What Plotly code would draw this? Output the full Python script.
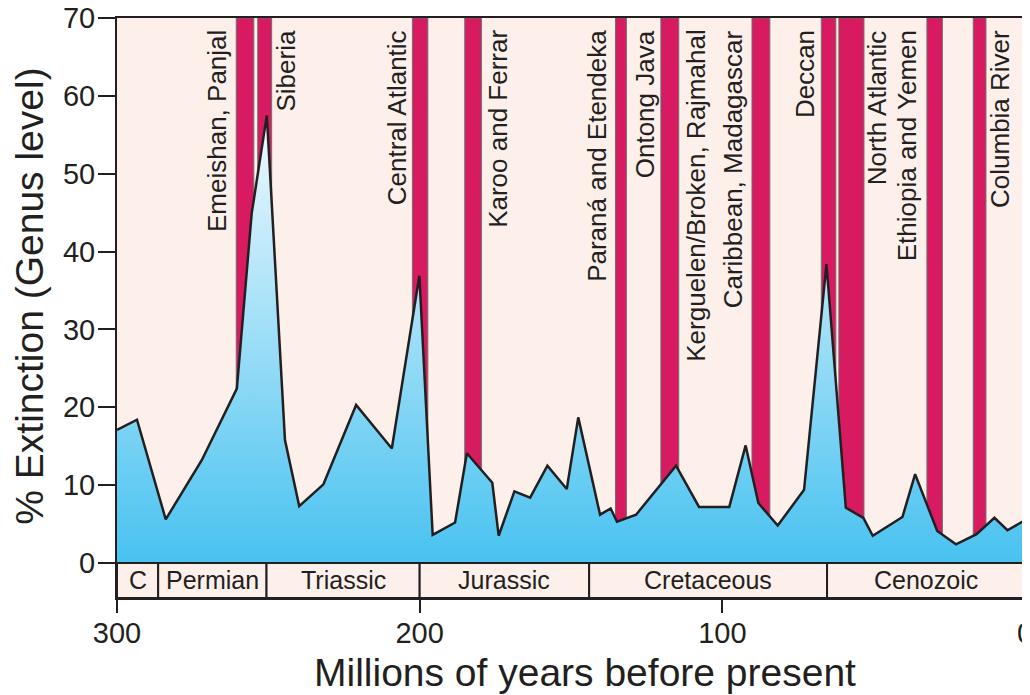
import plotly.graph_objects as go

# ---- data ----
ages = [300, 293.4, 283.9, 272.0, 260.4, 255.5, 250.5, 244.5, 239.8, 231.8, 221.0,
        209.2, 200.1, 195.7, 188.3, 184.4, 176.0, 173.9, 168.7, 163.5, 157.8, 151.4,
        147.6, 140.4, 136.9, 134.8, 128.5, 115.3, 107.7, 97.7, 92.3, 88.1, 81.7, 73.0,
        65.6, 59.2, 53.4, 50.3, 40.5, 36.3, 29.0, 22.8, 16.0, 10.1, 5.8, 0.0]
extinction = [17.1, 18.4, 5.6, 13.2, 22.4, 44.9, 57.5, 15.8, 7.3, 10.1, 20.3,
              14.7, 36.9, 3.6, 5.2, 14.1, 10.3, 3.5, 9.2, 8.4, 12.5, 9.5,
              18.7, 6.2, 7.0, 5.3, 6.2, 12.5, 7.2, 7.2, 15.1, 7.7, 4.8, 9.4,
              38.4, 7.1, 5.8, 3.5, 5.9, 11.4, 4.1, 2.4, 3.7, 5.8, 4.2, 5.5]

# large igneous province events (start age, end age)
lip_start = [260.6, 253.5, 202.4, 185.1, 135.3, 120.3, 90.2, 67.3, 61.5, 32.4, 17.1]
lip_end = [254.8, 248.9, 197.3, 179.6, 131.7, 114.4, 84.3, 62.5, 53.2, 27.3, 12.9]

lip_labels = ["Emeishan, Panjal", "Siberia", "Central Atlantic", "Karoo and Ferrar",
              "Paraná and Etendeka", "Ontong Java", "Kerguelen/Broken, Rajmahal",
              "Caribbean, Madagascar", "Deccan", "North Atlantic",
              "Ethiopia and Yemen", "Columbia River"]
lip_label_age = [267.0, 244.2, 207.6, 174.2, 141.5, 125.5, 108.5, 96.4, 72.7, 49.0, 39.1, 8.3]

periods = ["C", "Permian", "Triassic", "Jurassic", "Cretaceous", "Cenozoic"]
period_start = [300, 286.4, 250.6, 200.0, 144.0, 65.4]
period_end = [286.4, 250.6, 200.0, 144.0, 65.4, 0]

y_ticks = [0, 10, 20, 30, 40, 50, 60, 70]
x_ticks = [300, 200, 100, 0]

# ---- style ----
FONT = "Liberation Sans, Arial, sans-serif"
INK = "#231F20"
PINK = "#FDF0EB"
RED = "#D81B60"

fig = go.Figure()

fig.add_trace(go.Scatter(
    x=ages, y=extinction, mode="lines",
    line=dict(color=INK, width=2.5),
    fill="tozeroy",
    fillgradient=dict(type="vertical", start=0, stop=58,
                      colorscale=[[0, "#48C2F0"], [1, "#F2FAFE"]]),
    hoverinfo="skip", showlegend=False,
))

shapes = []
for s, e in zip(lip_start, lip_end):
    shapes.append(dict(type="rect", xref="x", yref="y", x0=s, x1=e, y0=0, y1=70,
                       fillcolor=RED, line=dict(color="#6E6E6E", width=1), layer="below"))
for s, e in zip(period_start, period_end):
    shapes.append(dict(type="rect", xref="x", yref="y", x0=s, x1=e, y0=-4.5, y1=0,
                       fillcolor=PINK, line=dict(color=INK, width=2), layer="above"))

annotations = []
for name, a in zip(lip_labels, lip_label_age):
    annotations.append(dict(x=a, y=68.7, xref="x", yref="y", text=name, textangle=-90,
                            showarrow=False, xanchor="center", yanchor="top",
                            font=dict(family=FONT, size=26, color=INK)))
for name, s, e in zip(periods, period_start, period_end):
    annotations.append(dict(x=(s + e) / 2, y=-2.2, xref="x", yref="y", text=name,
                            showarrow=False, xanchor="center", yanchor="middle",
                            font=dict(family=FONT, size=25, color=INK)))
annotations.append(dict(x=0, y=34.2, xref="paper", yref="y", xshift=-87,
                        text="% Extinction (Genus level)", textangle=-90, showarrow=False,
                        xanchor="center", yanchor="middle",
                        font=dict(family=FONT, size=39, color=INK)))
annotations.append(dict(x=145.4, y=-0.128, xref="x", yref="paper",
                        text="Millions of years before present", showarrow=False,
                        xanchor="center", yanchor="middle",
                        font=dict(family=FONT, size=39, color=INK)))

# page body adds an 8px offset; margins compensate for it
fig.update_layout(
    width=1030, height=695,
    margin=dict(l=109, r=13, t=10, b=105, autoexpand=False),
    paper_bgcolor="white", plot_bgcolor=PINK,
    shapes=shapes, annotations=annotations,
    showlegend=False,
    xaxis=dict(range=[300, 0], tickvals=x_ticks, ticks="outside", ticklen=13,
               tickwidth=2, tickcolor=INK, showline=True, linecolor=INK, linewidth=2,
               mirror=True, showgrid=False, zeroline=False, automargin=False,
               ticklabelstandoff=-5, ticklabeloverflow="allow",
               tickfont=dict(family=FONT, size=29, color=INK)),
    yaxis=dict(range=[-4.5, 70], tickvals=y_ticks, ticks="outside", ticklen=17,
               tickwidth=2, tickcolor=INK, showline=True, linecolor=INK, linewidth=2,
               mirror=True, showgrid=False, zeroline=False, automargin=False,
               ticklabelstandoff=-3, ticklabeloverflow="allow",
               tickfont=dict(family=FONT, size=29, color=INK)),
)

fig.write_html("out.html")
